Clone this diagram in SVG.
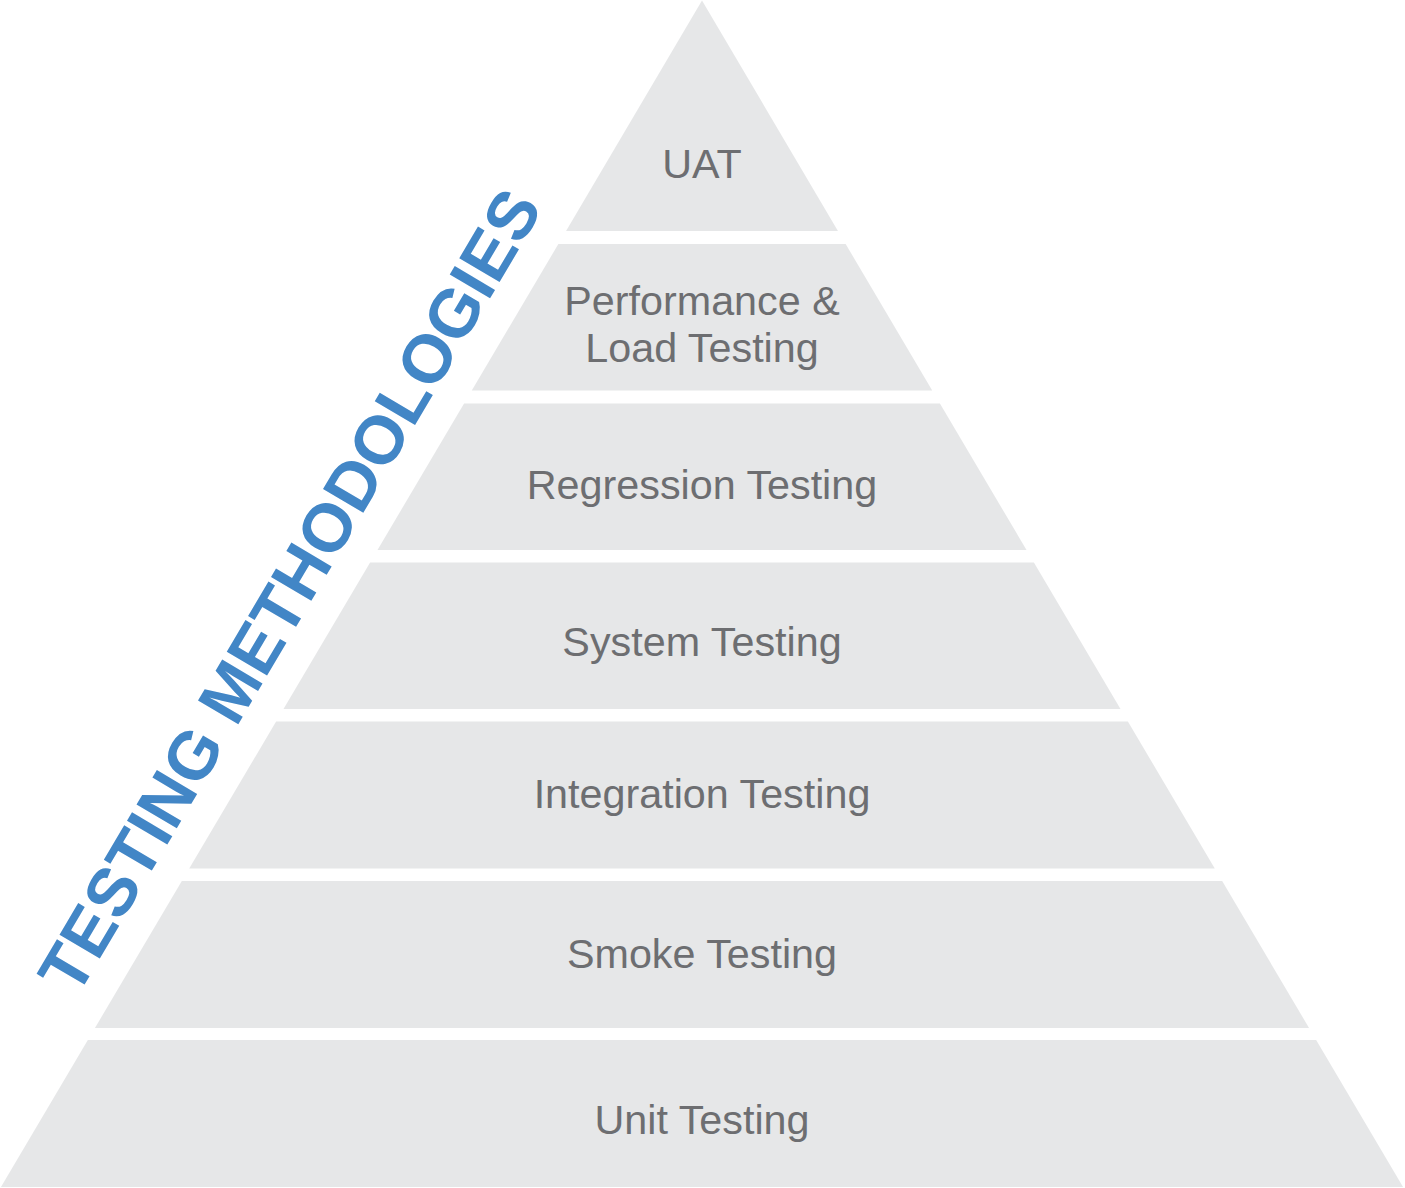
<svg xmlns="http://www.w3.org/2000/svg" width="1405" height="1188" viewBox="0 0 1405 1188">
<style>
.layer{fill:#E6E7E8;}
.lbl{font-family:"Liberation Sans",Arial,sans-serif;font-size:41.3px;fill:#6D6E71;text-anchor:middle;}
.title{font-family:"Liberation Sans",Arial,sans-serif;font-size:68px;font-weight:bold;fill:#4286C6;text-anchor:middle;}
</style>
<rect width="1405" height="1188" fill="#FFFFFF"/>
<g id="layer-uat">
<polygon class="layer" points="702,0.5 837.95,231 566.05,231"/>
<text class="lbl" x="702" y="178">UAT</text>
</g>
<g id="layer-performance">
<polygon class="layer" points="558.36,244 845.64,244 932.23,390.5 471.77,390.5"/>
<text class="lbl" x="702" y="315">Performance &amp;</text>
<text class="lbl" x="702" y="362">Load Testing</text>
</g>
<g id="layer-regression">
<polygon class="layer" points="464.08,403.5 939.92,403.5 1026.51,550 377.49,550"/>
<text class="lbl" x="702" y="499">Regression Testing</text>
</g>
<g id="layer-system">
<polygon class="layer" points="370.1,562.5 1033.9,562.5 1120.5,709 283.5,709"/>
<text class="lbl" x="702" y="656">System Testing</text>
</g>
<g id="layer-integration">
<polygon class="layer" points="276.11,721.5 1127.89,721.5 1214.78,868.5 189.22,868.5"/>
<text class="lbl" x="702" y="808">Integration Testing</text>
</g>
<g id="layer-smoke">
<polygon class="layer" points="181.83,881 1222.17,881 1309.06,1028 94.94,1028"/>
<text class="lbl" x="702" y="968">Smoke Testing</text>
</g>
<g id="layer-unit">
<polygon class="layer" points="87.85,1040 1316.15,1040 1403.04,1187 0.96,1187"/>
<text class="lbl" x="702" y="1134">Unit Testing</text>
</g>
<g id="title">
<text class="title" x="0" y="0" transform="translate(310,603) rotate(-59.42)">TESTING METHODOLOGIES</text>
</g>
<g id="connectors"></g>
</svg>
